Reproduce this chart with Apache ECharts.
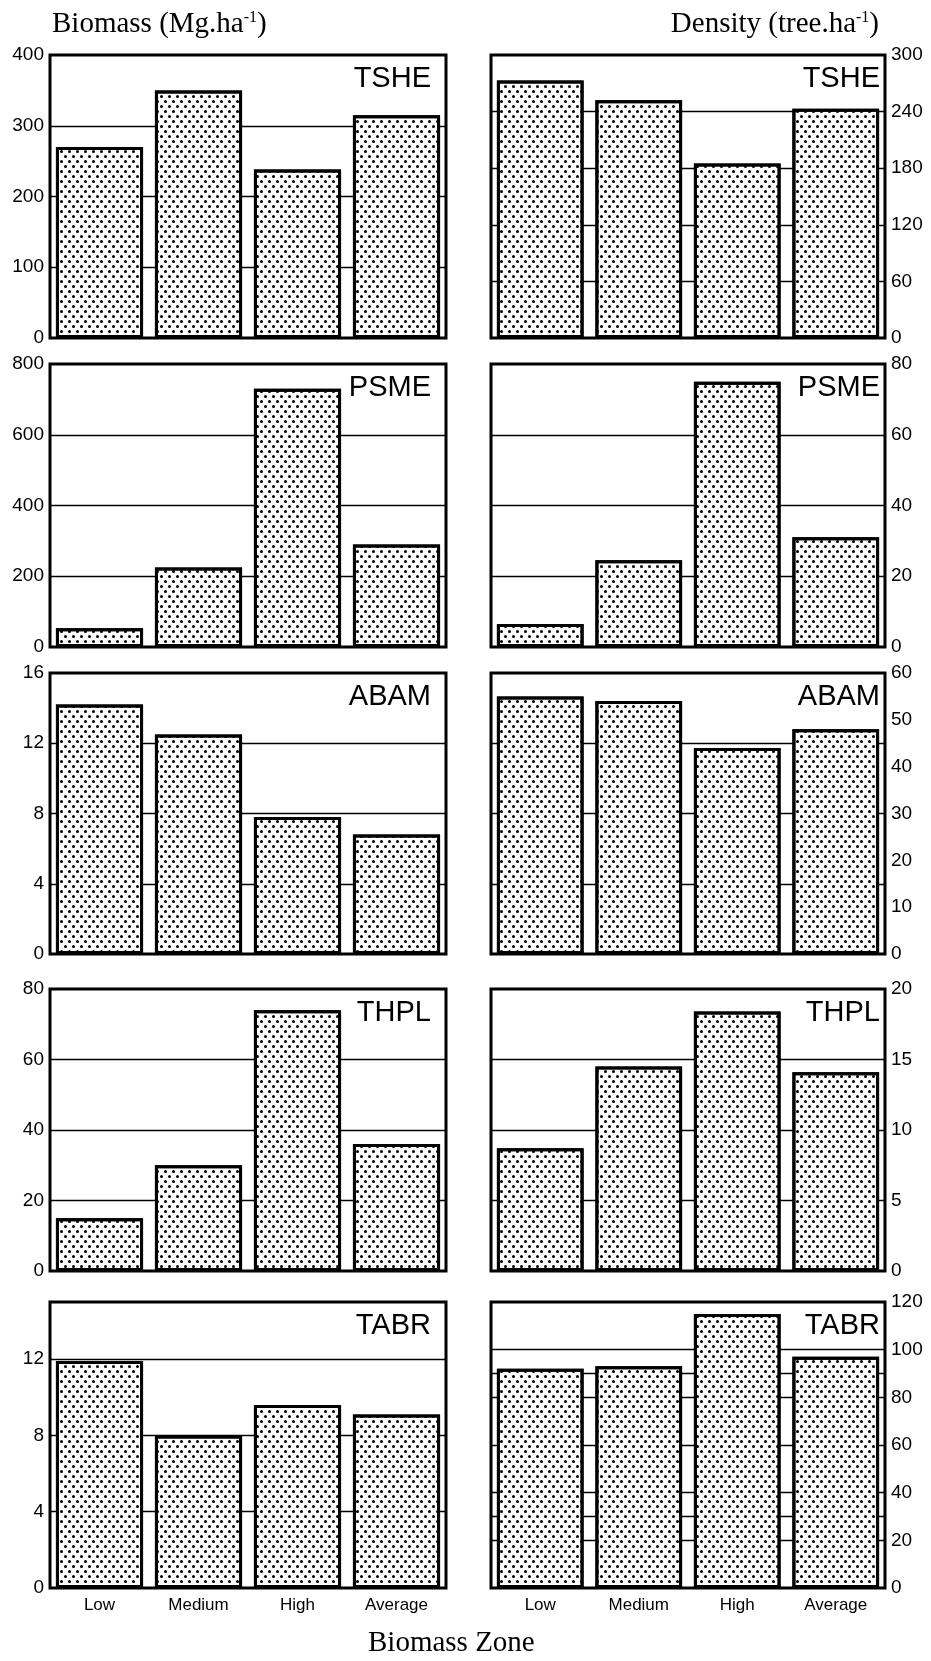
<!DOCTYPE html>
<html><head><meta charset="utf-8">
<script src="https://cdn.jsdelivr.net/npm/echarts@6/dist/echarts.min.js"></script>
<style>html,body{margin:0;padding:0;background:#fff}#c{width:931px;height:1661px}</style>
</head><body><div id="c"></div>
<script>
// ---- data ----
const categories = ['Low', 'Medium', 'High', 'Average'];
const speciesCodes = ['TSHE', 'PSME', 'ABAM', 'THPL', 'TABR'];

// Biomass (Mg.ha-1) per zone
const biomassTSHE = [270, 350, 238, 315];
const biomassPSME = [53, 225, 730, 290];
const biomassABAM = [14.2, 12.5, 7.8, 6.8];
const biomassTHPL = [15, 30, 74, 36];
const biomassTABR = [11.9, 8.0, 9.6, 9.1];

// Density (tree.ha-1) per zone
const densityTSHE = [273, 252, 185, 243];
const densityPSME = [6.5, 24.5, 75, 31];
const densityABAM = [55, 54, 44, 48];
const densityTHPL = [8.7, 14.5, 18.4, 14.1];
const densityTABR = [92, 93, 115, 97];

// tick labels
const biomassTicksTSHE = [0, 100, 200, 300, 400];
const biomassTicksPSME = [0, 200, 400, 600, 800];
const biomassTicksABAM = [0, 4, 8, 12, 16];
const biomassTicksTHPL = [0, 20, 40, 60, 80];
const biomassTicksTABR = [0, 4, 8, 12];
const densityTicksTSHE = [0, 60, 120, 180, 240, 300];
const densityTicksPSME = [0, 20, 40, 60, 80];
const densityTicksABAM = [0, 10, 20, 30, 40, 50, 60];
const densityTicksTHPL = [0, 5, 10, 15, 20];
const densityTicksTABR = [0, 20, 40, 60, 80, 100, 120];

// axis maxima
const biomassMax = [400, 800, 16, 80, 15];
const densityMax = [300, 80, 60, 20, 120];

// horizontal reference lines drawn in each panel
const biomassLinesTSHE = [100, 200, 300];
const biomassLinesPSME = [200, 400, 600];
const biomassLinesABAM = [4, 8, 12];
const biomassLinesTHPL = [20, 40, 60];
const biomassLinesTABR = [4, 8, 12];
const densityLinesTSHE = [60, 120, 180, 240];
const densityLinesPSME = [20, 40, 60];
const densityLinesABAM = [15, 30, 45];
const densityLinesTHPL = [5, 10, 15];
const densityLinesTABR = [20, 30, 40, 60, 80, 90, 100];

const biomassSeries = [biomassTSHE, biomassPSME, biomassABAM, biomassTHPL, biomassTABR];
const densitySeries = [densityTSHE, densityPSME, densityABAM, densityTHPL, densityTABR];
const biomassTicks = [biomassTicksTSHE, biomassTicksPSME, biomassTicksABAM, biomassTicksTHPL, biomassTicksTABR];
const densityTicks = [densityTicksTSHE, densityTicksPSME, densityTicksABAM, densityTicksTHPL, densityTicksTABR];
const biomassLines = [biomassLinesTSHE, biomassLinesPSME, biomassLinesABAM, biomassLinesTHPL, biomassLinesTABR];
const densityLines = [densityLinesTSHE, densityLinesPSME, densityLinesABAM, densityLinesTHPL, densityLinesTABR];

// ---- layout ----
const rowTop = [55, 364, 673, 989, 1302];
const rowHeight = [283, 283, 281, 282, 286];
const colLeft = [50, 491];
const colWidth = [396, 394];
const panelLabelRight = [500, 51];

const SANS = 'Liberation Sans, Arial, sans-serif';
const SERIF = 'Liberation Serif, Times New Roman, serif';

const grids = [], xAxes = [], yAxes = [], series = [], titles = [];

const dotDecal = {
  symbol: 'circle',
  symbolSize: 1,
  color: '#000',
  dashArrayX: [[3, 5], [0, 4, 3, 1]],
  dashArrayY: [3, 2],
  rotation: 0
};

for (let col = 0; col < 2; col++) {
  for (let row = 0; row < 5; row++) {
    const idx = grids.length;
    const values = col === 0 ? biomassSeries[row] : densitySeries[row];
    const ticks = col === 0 ? biomassTicks[row] : densityTicks[row];
    const lines = col === 0 ? biomassLines[row] : densityLines[row];
    const maxV = col === 0 ? biomassMax[row] : densityMax[row];
    grids.push({
      left: colLeft[col], top: rowTop[row], width: colWidth[col], height: rowHeight[row],
      show: true, borderColor: '#000', borderWidth: 3, backgroundColor: 'transparent'
    });
    xAxes.push({
      type: 'category', gridIndex: idx, data: categories,
      axisLine: { show: false }, axisTick: { show: false },
      axisLabel: { show: row === 4, color: '#000', fontFamily: SANS, fontSize: 17, margin: 9 }
    });
    yAxes.push({
      type: 'value', gridIndex: idx, min: 0, max: maxV, interval: ticks[1] - ticks[0],
      position: col === 0 ? 'left' : 'right',
      axisLine: { show: false }, axisTick: { show: false }, splitLine: { show: false },
      axisLabel: {
        color: '#000', fontFamily: SANS, fontSize: 19, margin: 6,
        formatter: v => (ticks.indexOf(v) >= 0 ? String(v) : '')
      }
    });
    series.push({
      type: 'bar', xAxisIndex: idx, yAxisIndex: idx, data: values,
      barWidth: '88%', z: 2,
      itemStyle: { color: '#fff', borderColor: '#000', borderWidth: 3, decal: dotDecal },
      emphasis: { disabled: true },
      markLine: {
        silent: true, z: 1, symbol: ['none', 'none'], label: { show: false },
        lineStyle: { color: '#000', width: 1.3, type: 'solid' },
        emphasis: { disabled: true },
        data: lines.map(v => ({ yAxis: v }))
      }
    });
    titles.push({
      text: speciesCodes[row], right: panelLabelRight[col], top: rowTop[row] + 9, padding: 0,
      textStyle: { fontFamily: SANS, fontSize: 29, fontWeight: 'normal', color: '#000' }
    });
  }
}

const headRich = {
  a: { fontFamily: SERIF, fontSize: 29, fontWeight: 'normal', color: '#000' },
  s: { fontFamily: SERIF, fontSize: 16, fontWeight: 'normal', color: '#000', padding: [0, 0, 13, 0] }
};
titles.push({
  text: '{a|Biomass (Mg.ha}{s|-1}{a|)}', left: 52, top: 10, padding: 0,
  textStyle: { fontWeight: 'normal', rich: headRich }
});
titles.push({
  text: '{a|Density (tree.ha}{s|-1}{a|)}', right: 52, top: 10, padding: 0,
  textStyle: { fontWeight: 'normal', rich: headRich }
});
titles.push({
  text: 'Biomass Zone', left: 368, top: 1629, padding: 0,
  textStyle: { fontFamily: SERIF, fontSize: 29, fontWeight: 'normal', color: '#000' }
});

const chart = echarts.init(document.getElementById('c'), null, { renderer: 'canvas' });
chart.setOption({
  animation: false,
  backgroundColor: '#fff',
  title: titles,
  grid: grids,
  xAxis: xAxes,
  yAxis: yAxes,
  series: series
});
</script></body></html>
